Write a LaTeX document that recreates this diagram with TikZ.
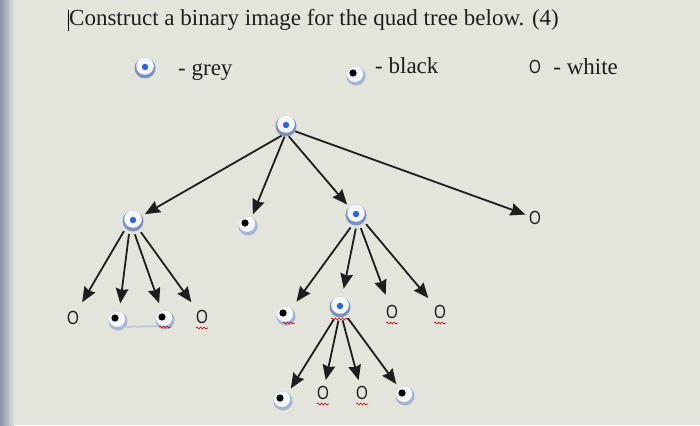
\documentclass[tikz,border=0pt]{standalone}
\usepackage{fontspec}
\setmainfont{Liberation Serif}
\newfontfamily\osans{Liberation Sans}
\usepackage{tikz}
\usetikzlibrary{arrows.meta, positioning, decorations.pathmorphing}

\definecolor{screen}{HTML}{E3E4DC}
\definecolor{bezel}{HTML}{8790A8}
\definecolor{dotblue}{HTML}{2F64D6}
\definecolor{ring}{HTML}{7E93BC}
\definecolor{face}{HTML}{F3F5F9}
\definecolor{ink}{HTML}{1E1E1E}

\begin{document}
\begin{tikzpicture}[
    x=1pt, y=-1pt,
    greynode/.style={circle, minimum size=21pt, inner sep=0pt, fill=ring,
        path picture={\fill[face] ([yshift=2pt]path picture bounding box.center) circle (8.8pt);
            \fill[dotblue] ([yshift=1pt]path picture bounding box.center) circle (3.2pt);}},
    blacknode/.style={circle, minimum size=19pt, inner sep=0pt, fill=ring!70,
        path picture={\fill[face] ([shift={(-1pt,2.2pt)}]path picture bounding box.center) circle (8.2pt);
            \fill[black] ([shift={(-3pt,3pt)}]path picture bounding box.center) circle (3.6pt);}},
    whitenode/.style={circle, minimum size=20pt, inner sep=0pt, text=ink, font=\osans\fontsize{19}{19}\selectfont},
    legtext/.style={font=\fontsize{23}{23}\selectfont, inner sep=0pt, text=ink},
    arrow/.style={line width=1.8pt, draw=ink, -{Stealth[length=15pt, width=12.5pt, inset=1.5pt]}, shorten >=3pt},
    farrow/.style={arrow, shorten >=8pt, shorten <=3pt},
    squig/.style={draw=red!75!black, line width=0.6pt, decorate, decoration={snake, amplitude=1pt, segment length=3.5pt}}
]
% screen background
\fill[screen] (0,0) rectangle (700,425);
\shade[left color=bezel, right color=screen] (0,0) rectangle (14,425);
\useasboundingbox (0,0) rectangle (700,425);

% question and legend
\node[legtext, anchor=base west] (title) at (69,26) {Construct a binary image for the quad tree below. (4)};
\draw[line width=0.6pt] ([xshift=-1pt]title.north west) -- ([xshift=-1pt]title.south west);

\node[greynode] (leggrey) at (145,68) {};
\node[legtext, anchor=base west] (greylab) at (178,76) {- grey};
\node[blacknode] (legblack) at (356,76) {};
\node[legtext, anchor=base west] (blacklab) at (375,74) {- black};
\node[whitenode] (legwhite) at (535,67) {\scalebox{0.8}[1]{O}};
\node[legtext, right=8pt of legwhite.east, anchor=west] (whitelab) {- white};

% quad tree
\node[greynode] (root) at (286,126) {};

\node[greynode] (A) at (133,221) {};
\node[blacknode] (B) at (248,226) {};
\node[greynode] (C) at (356,215) {};
\node[whitenode] (W) at (535,218) {\scalebox{0.8}[1]{O}};

\node[whitenode] (a1) at (73,318) {\scalebox{0.8}[1]{O}};
\node[blacknode] (a2) at (118,321) {};
\node[blacknode] (a3) at (165,320) {};
\node[whitenode] (a4) at (202,317) {\scalebox{0.8}[1]{O}};

\node[blacknode] (c1) at (286,316) {};
\node[greynode] (D) at (340,307) {};
\node[whitenode] (c3) at (392,312) {\scalebox{0.8}[1]{O}};
\node[whitenode] (c4) at (440,312) {\scalebox{0.8}[1]{O}};

\node[blacknode] (d1) at (283,401) {};
\node[whitenode] (d2) at (323,393) {\scalebox{0.8}[1]{O}};
\node[whitenode] (d3) at (362,393) {\scalebox{0.8}[1]{O}};
\node[blacknode] (d4) at (405,396) {};

\draw[arrow] (root.245) -- (A);
\draw[arrow] (root.262) -- (B);
\draw[arrow] (root.285) -- (C);
\draw[arrow, shorten >=0pt] (root.330) -- (W);

\draw[farrow] (A.225) -- (a1);
\draw[farrow] (A.250) -- (a2);
\draw[farrow] (A.275) -- (a3);
\draw[farrow] (A.305) -- (a4);

\draw[farrow] (C.250) -- (c1);
\draw[farrow] (C.272) -- (D);
\draw[farrow] (C.290) -- (c3);
\draw[farrow] (C.320) -- (c4);

\draw[farrow, shorten >=5pt] (D.245) -- (d1);
\draw[farrow, shorten >=3pt] (D.265) -- (d2);
\draw[farrow, shorten >=3pt] (D.280) -- (d3);
\draw[farrow, shorten >=5pt] (D.305) -- (d4);

% editor marks
\draw[line width=1.5pt, color=ring!55] ([shift={(3pt,-6pt)}]a2.center) -- ([shift={(-5pt,-6pt)}]a3.center);
\draw[squig] ([xshift=-6pt, yshift=-7pt]a3.center) -- ++(12,0);
\draw[squig] ([xshift=-6pt, yshift=-11pt]a4.center) -- ++(12,0);
\draw[squig] ([xshift=-3pt, yshift=-7pt]c1.center) -- ++(12,0);
\draw[squig] ([xshift=-9pt, yshift=-12pt]D.center) -- ++(18,0);
\draw[squig] ([xshift=-6pt, yshift=-11pt]c3.center) -- ++(12,0);
\draw[squig] ([xshift=-6pt, yshift=-11pt]c4.center) -- ++(12,0);
\draw[squig] ([xshift=-6pt, yshift=-11pt]d2.center) -- ++(12,0);
\draw[squig] ([xshift=-6pt, yshift=-11pt]d3.center) -- ++(12,0);
\end{tikzpicture}
\end{document}
